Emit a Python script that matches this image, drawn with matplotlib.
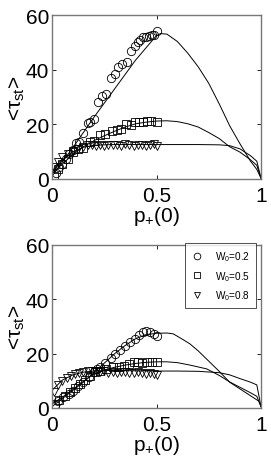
import matplotlib
matplotlib.use("Agg")
import matplotlib.pyplot as plt

plt.rcParams['font.family'] = ['Liberation Sans', 'DejaVu Sans']
plt.rcParams['mathtext.fontset'] = 'custom'
plt.rcParams['mathtext.rm'] = 'Liberation Sans'
plt.rcParams['mathtext.it'] = 'Liberation Sans:italic'

# ---------------- data: top panel ----------------
x_c1 = [0.02, 0.035, 0.05, 0.065, 0.08, 0.1, 0.115, 0.13, 0.15, 0.17, 0.18, 0.2, 0.22, 0.24,
        0.26, 0.28, 0.3, 0.315, 0.335, 0.36, 0.38, 0.395, 0.41, 0.42, 0.435, 0.45, 0.465, 0.48,
        0.49, 0.5]
y_c1 = [2.2, 4.5, 5.5, 7.3, 9.0, 10.5, 13.2, 13.6, 17.0, 20.5, 21.0, 22.0, 28.0, 30.5,
        31.0, 37.0, 38.4, 41.0, 42.0, 42.7, 47.0, 48.5, 50.0, 51.0, 51.8, 52.0, 52.4, 52.7,
        52.7, 54.3]
x_s1 = [0.01, 0.03, 0.05, 0.075, 0.1, 0.125, 0.15, 0.18, 0.2, 0.23, 0.255, 0.285, 0.31, 0.33,
        0.355, 0.38, 0.395, 0.415, 0.435, 0.455, 0.475, 0.5]
y_s1 = [1.0, 3.5, 5.5, 7.3, 9.8, 11.0, 11.3, 13.4, 14.0, 16.1, 16.5, 17.7, 18.0, 18.3,
        20.1, 19.8, 20.7, 21.0, 21.0, 21.2, 21.4, 21.0]
x_t1 = [0.01, 0.03, 0.05, 0.075, 0.1, 0.125, 0.15, 0.17, 0.19, 0.21, 0.23, 0.25, 0.27, 0.29,
        0.31, 0.33, 0.35, 0.37, 0.39, 0.41, 0.43, 0.45, 0.47, 0.49, 0.5]
y_t1 = [4.3, 6.1, 7.9, 9.1, 10.4, 11.0, 11.6, 12.3, 12.6, 12.2, 12.4, 12.0, 12.5, 12.3,
        12.6, 12.2, 12.8, 12.4, 12.2, 12.5, 12.3, 12.0, 12.4, 12.8, 12.0]

xc_c1 = [0, 0.1, 0.2, 0.3, 0.4, 0.5, 0.52, 0.55, 0.6, 0.65, 0.7, 0.75, 0.8, 0.85, 0.9, 0.95, 0.98, 1.0]
yc_c1 = [1, 11.5, 22.5, 33, 43.5, 52.5, 53.2, 53, 50.3, 46, 41, 35, 27.5, 19.5, 12.8, 6.5, 3.5, 0.3]
xc_s1 = [0, 0.05, 0.1, 0.15, 0.2, 0.25, 0.3, 0.35, 0.4, 0.45, 0.5, 0.55, 0.6, 0.65, 0.7, 0.75,
         0.8, 0.85, 0.9, 0.95, 0.98, 1.0]
yc_s1 = [2, 5.5, 9, 11.8, 14, 15.8, 17.5, 19, 20.2, 20.8, 21.2, 21.3, 21, 20.2, 19, 17,
         14.8, 11.8, 9.8, 7, 5, 0.3]
xc_t1 = [0, 0.05, 0.1, 0.15, 0.2, 0.25, 0.3, 0.4, 0.5, 0.6, 0.7, 0.8, 0.85, 0.9, 0.95, 0.98, 1.0]
yc_t1 = [2.5, 7, 10, 11.6, 12.3, 12.5, 12.6, 12.6, 12.6, 12.6, 12.6, 12.5, 12.2, 11, 8.5, 6.5, 0.3]

# ---------------- data: bottom panel ----------------
x_c2 = [0.015, 0.03, 0.055, 0.08, 0.1, 0.125, 0.15, 0.175, 0.2, 0.215, 0.23, 0.255, 0.28, 0.3,
        0.325, 0.35, 0.375, 0.395, 0.415, 0.435, 0.45, 0.47, 0.49, 0.5]
y_c2 = [1.2, 2.5, 4.0, 5.2, 6.4, 8.0, 9.5, 11.5, 13.1, 14.2, 15.0, 16.5, 18.3, 20.0,
        21.5, 22.9, 24.2, 25.4, 26.8, 28.0, 28.3, 27.8, 27.3, 26.4]
x_s2 = [0.015, 0.035, 0.06, 0.085, 0.11, 0.135, 0.16, 0.18, 0.205, 0.23, 0.26, 0.29, 0.32, 0.345,
        0.37, 0.39, 0.41, 0.43, 0.455, 0.48, 0.5]
y_s2 = [1.5, 3.0, 4.5, 6.0, 7.4, 8.8, 10.4, 11.9, 13.1, 13.7, 14.4, 15.0, 15.2, 15.6,
        16.2, 16.8, 17.0, 16.5, 17.0, 17.0, 17.1]
x_t2 = [0.01, 0.03, 0.05, 0.07, 0.09, 0.11, 0.13, 0.15, 0.17, 0.19, 0.21, 0.23, 0.25, 0.27,
        0.29, 0.31, 0.33, 0.35, 0.37, 0.39, 0.41, 0.43, 0.45, 0.47, 0.49, 0.5]
y_t2 = [6.0, 8.5, 10.0, 11.0, 11.8, 12.4, 13.0, 13.3, 13.5, 13.8, 13.6, 13.2, 13.5, 13.0,
        13.4, 12.8, 13.1, 13.3, 12.7, 13.0, 13.2, 12.9, 12.5, 12.8, 12.6, 12.2]

xc_c2 = [0, 0.05, 0.1, 0.15, 0.2, 0.25, 0.3, 0.35, 0.4, 0.45, 0.5, 0.55, 0.58, 0.62, 0.66, 0.7,
         0.74, 0.8, 0.85, 0.9, 0.95, 0.99, 1.0]
yc_c2 = [0.5, 3.5, 6.5, 9.5, 13, 16.5, 20, 23, 25.5, 27, 27.5, 27.6, 27.3, 25.5, 23.6, 21,
         18, 13.5, 9.5, 7, 4.5, 2.5, 0.5]
xc_s2 = [0, 0.05, 0.1, 0.15, 0.2, 0.25, 0.3, 0.35, 0.4, 0.45, 0.5, 0.55, 0.6, 0.66, 0.74, 0.8,
         0.85, 0.9, 0.95, 0.98, 1.0]
yc_s2 = [1.5, 4, 6.8, 9.8, 12.5, 14, 15, 15.8, 16.4, 16.8, 17, 17, 16.7, 15.8, 14.4, 12,
         9.6, 7.6, 5.6, 4.3, 0.5]
xc_t2 = [0, 0.05, 0.1, 0.15, 0.2, 0.25, 0.3, 0.4, 0.5, 0.6, 0.7, 0.8, 0.85, 0.9, 0.95, 0.98, 1.0]
yc_t2 = [6.5, 10.3, 12.2, 13.2, 13.6, 13.8, 13.8, 13.7, 13.6, 13.6, 13.5, 13, 12.2, 10.8, 9.5, 8.5, 0.5]

labels = [r'W$_\mathregular{0}$=0.2', r'W$_\mathregular{0}$=0.5', r'W$_\mathregular{0}$=0.8']
x_ticks = [0, 0.5, 1]
x_ticklabels = ['0', '0.5', '1']
y_ticks = [0, 20, 40, 60]

FS = 15

fig = plt.figure(figsize=(2.71, 4.60), dpi=100)
ax1 = fig.add_axes([52/271, 1-180/460, 209/271, 164/460])
ax2 = fig.add_axes([52/271, 1-409/460, 209/271, 163/460])

mk = dict(mfc='none', mec='black', mew=0.6, ms=6.0, ls='none')
handles = []
for ax, pts, curves in [
    (ax1, [(x_c1, y_c1, 'o'), (x_s1, y_s1, 's'), (x_t1, y_t1, 'v')],
     [(xc_c1, yc_c1), (xc_s1, yc_s1), (xc_t1, yc_t1)]),
    (ax2, [(x_c2, y_c2, 'o'), (x_s2, y_s2, 's'), (x_t2, y_t2, 'v')],
     [(xc_c2, yc_c2), (xc_s2, yc_s2), (xc_t2, yc_t2)]),
]:
    handles = []
    for (xs, ys, m), lab in zip(pts, labels):
        h, = ax.plot(xs, ys, marker=m, label=lab, **mk)
        handles.append(h)
    for xs, ys in curves:
        ax.plot(xs, ys, color='black', lw=0.7)
    ax.set_xlim(0, 1)
    ax.set_ylim(0, 60)
    ax.set_xticks(x_ticks)
    ax.set_xticklabels(x_ticklabels)
    ax.set_yticks(y_ticks)
    ax.tick_params(direction='in', length=3, width=0.6, top=True, right=True,
                   labelsize=FS, colors='black')
    ax.tick_params(axis='x', pad=5)
    ax.tick_params(axis='y', pad=2)
    for s in ax.spines.values():
        s.set_color('#777777')
        s.set_linewidth(1.0)
    ax.set_xlabel(r'p$_\mathregular{+}$(0)', fontsize=FS, labelpad=-1)
    ax.set_ylabel(r'<τ$_\mathregular{st}$>', fontsize=FS, labelpad=-1)

leg = ax2.legend(handles=handles, loc='upper right', bbox_to_anchor=(0.977, 1.012),
                 fontsize=7.2, frameon=True, fancybox=False, edgecolor='black',
                 handlelength=1.2, handletextpad=1.2, borderpad=0.6, labelspacing=0.6,
                 borderaxespad=0, markerscale=0.8)
leg.get_frame().set_linewidth(0.6)

fig.savefig('out.png', dpi=100)
